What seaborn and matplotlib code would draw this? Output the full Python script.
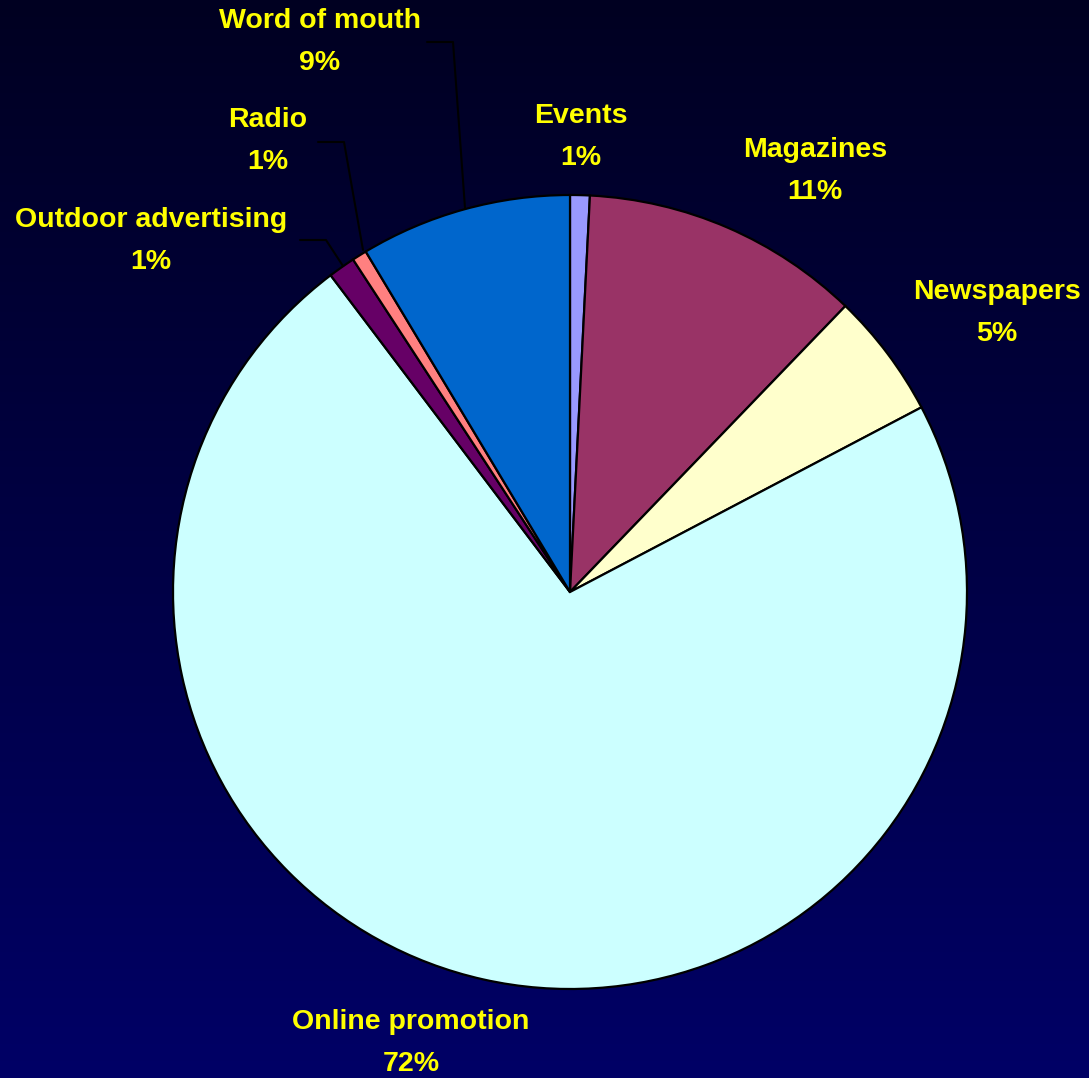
import numpy as np
import pandas as pd
import matplotlib
matplotlib.use("Agg")
import matplotlib.pyplot as plt
import seaborn as sns

# ---- data ----
categories = ["Events", "Magazines", "Newspapers", "Online promotion",
              "Outdoor advertising", "Radio", "Word of mouth"]
shares = [0.8, 11.4, 5.1, 72.4, 1.1, 0.6, 8.6]
slice_colors = ["#9999FF", "#993366", "#FFFFCC", "#CCFFFF",
                "#660066", "#FF8080", "#0066CC"]

# label centers in pixel coords (x, y from top)
label_pos = [(581, 137), (815, 171), (997, 313), (411, 1043),
             (151, 241), (268, 141), (320, 42)]
# leader lines (pixel coords from top): horizontal start, corner, end on pie
leaders = {
    "Word of mouth": [(427, 42), (453, 42), (465, 208)],
    "Radio": [(318, 142), (344, 142), (363, 250)],
    "Outdoor advertising": [(300, 240), (326, 240), (343, 266)],
}

df = pd.DataFrame({"category": categories, "share": shares, "color": slice_colors})

sns.set_theme(style="white")
plt.rcParams['font.family'] = ['Liberation Sans', 'DejaVu Sans']

W, H = 1089, 1078
fig = plt.figure(figsize=(W / 100, H / 100), dpi=100)

# background gradient
bg = fig.add_axes([0, 0, 1, 1])
top = np.array([0.0, 0.0, 0.13])
bot = np.array([0.0, 0.0, 0.40])
t = np.linspace(0, 1, 256)[:, None]
grad = (top[None, :] * (1 - t) + bot[None, :] * t)[:, None, :]
bg.imshow(grad, aspect="auto", extent=[0, 1, 0, 1], origin="upper")
bg.set_axis_off()

ax = fig.add_axes([0, 0, 1, 1])
ax.set_facecolor("none")
cx, cy, r = 570, H - 592, 397
ax.pie(df["share"], colors=df["color"], startangle=90, counterclock=False,
       center=(cx, cy), radius=r,
       wedgeprops=dict(edgecolor="black", linewidth=1.6))
ax.set_xlim(0, W)
ax.set_ylim(0, H)
ax.set_aspect("equal")
ax.set_axis_off()

for (name, val), (lx, ly) in zip(zip(categories, shares), label_pos):
    ax.text(lx, H - ly, f"{name}\n{int(round(val))}%", ha="center", va="center",
            fontsize=20.5, fontweight="bold", color="#FFFF00", linespacing=1.78)

for name, pts in leaders.items():
    xs = [p[0] for p in pts]
    ys = [H - p[1] for p in pts]
    ax.plot(xs, ys, color="black", linewidth=1.5)

fig.savefig("out.png", dpi=100)
